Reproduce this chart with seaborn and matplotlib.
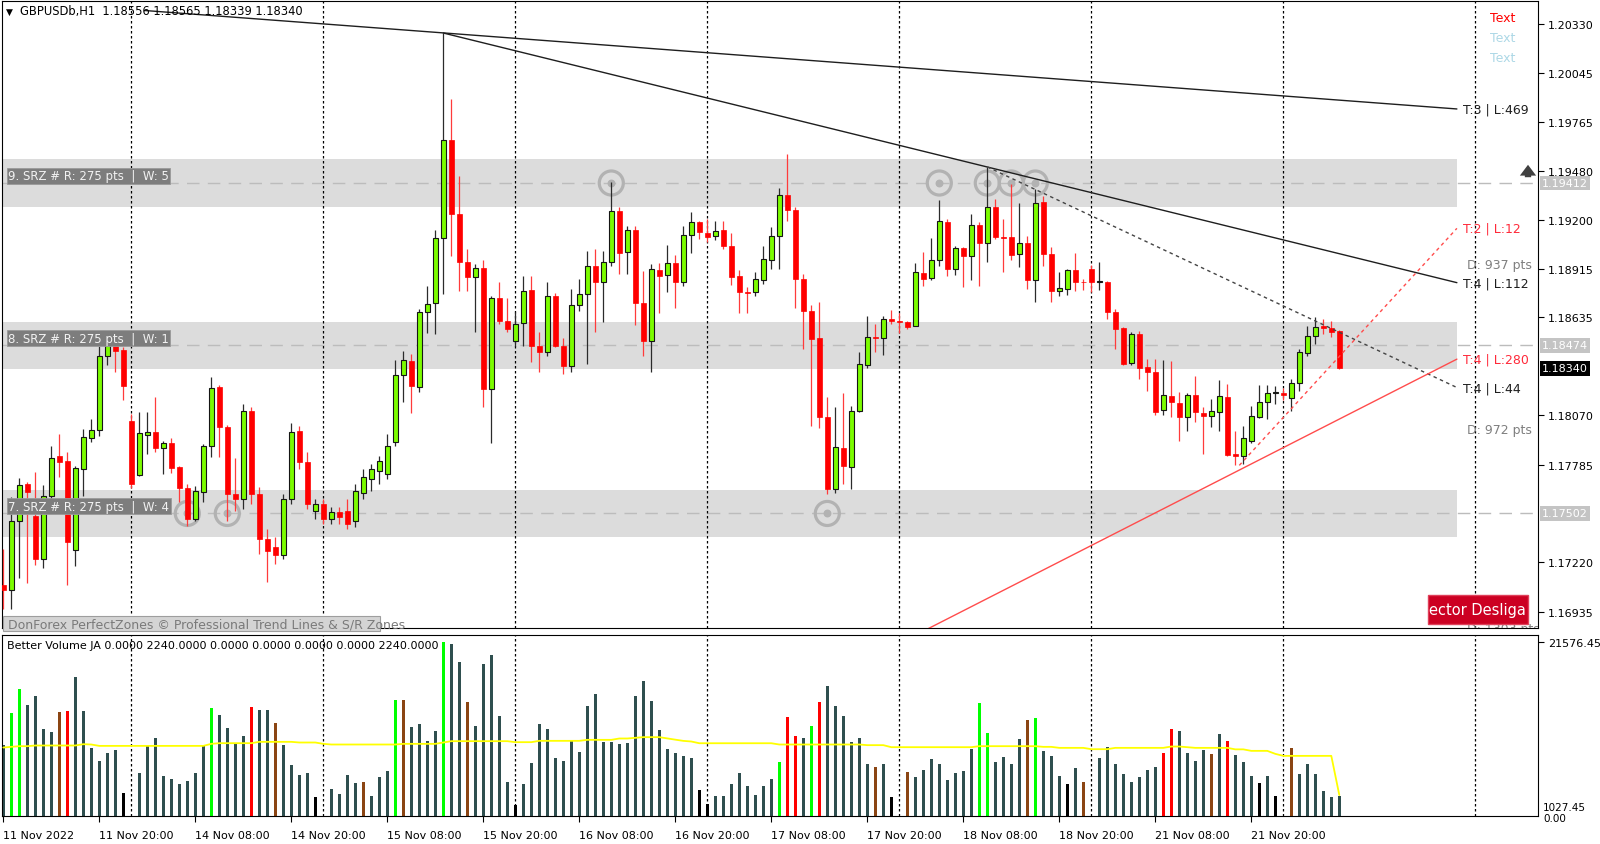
import numpy as np
import pandas as pd
import matplotlib
matplotlib.use("Agg")
import matplotlib.pyplot as plt
from matplotlib.patches import Rectangle, FancyArrowPatch
import seaborn as sns

# ---------------- data ----------------
bar_index = list(range(168))

open_prices = [
    1.17089, 1.17060, 1.17459, 1.17673, 1.17488, 1.17239, 1.17603, 1.17835, 1.17806, 1.17291,
    1.17759, 1.17939, 1.17985, 1.18413, 1.18470, 1.18447, 1.18037, 1.17725, 1.17956, 1.17973,
    1.17881, 1.17910, 1.17771, 1.17650, 1.17470, 1.17626, 1.17892, 1.18233, 1.18002, 1.17615,
    1.17586, 1.18095, 1.17615, 1.17355, 1.17309, 1.17262, 1.17586, 1.17979, 1.17800, 1.17517,
    1.17557, 1.17470, 1.17511, 1.17517, 1.17459, 1.17621, 1.17702, 1.17748, 1.17731, 1.17915,
    1.18303, 1.18384, 1.18233, 1.18667, 1.18719, 1.19095, 1.19661, 1.19233, 1.18956, 1.18869,
    1.18921, 1.18222, 1.18748, 1.18615, 1.18499, 1.18603, 1.18794, 1.18470, 1.18436, 1.18759,
    1.18470, 1.18355, 1.18707, 1.18771, 1.18933, 1.18840, 1.18956, 1.19251, 1.19014, 1.19141,
    1.18719, 1.18499, 1.18910, 1.18881, 1.18950, 1.18840, 1.19112, 1.19187, 1.19123, 1.19106,
    1.19141, 1.19048, 1.18875, 1.18782, 1.18782, 1.18852, 1.18967, 1.19106, 1.19343, 1.19256,
    1.18858, 1.18673, 1.18517, 1.18060, 1.17644, 1.17881, 1.17771, 1.18095, 1.18361, 1.18522,
    1.18517, 1.18626, 1.18615, 1.18609, 1.18586, 1.18892, 1.18863, 1.18967, 1.19187, 1.18915,
    1.19037, 1.18991, 1.19170, 1.19066, 1.19274, 1.19100, 1.19100, 1.19002, 1.19066, 1.18852,
    1.19303, 1.19002, 1.18788, 1.18800, 1.18910, 1.18840, 1.18915, 1.18840, 1.18840, 1.18667,
    1.18574, 1.18372, 1.18540, 1.18349, 1.18320, 1.18100, 1.18181, 1.18141, 1.18060, 1.18187,
    1.18083, 1.18066, 1.18089, 1.18176, 1.17846, 1.17835, 1.17921, 1.18060, 1.18147, 1.18199,
    1.18199, 1.18170, 1.18256, 1.18430, 1.18528, 1.18586, 1.18574, 1.18556]

high_prices = [
    1.17297, 1.17598, 1.17707, 1.17684, 1.17742, 1.17667, 1.17892, 1.17962, 1.17858, 1.17777,
    1.17991, 1.18048, 1.18470, 1.18511, 1.18488, 1.18465, 1.18077, 1.18089, 1.18089, 1.18176,
    1.17921, 1.17939, 1.17777, 1.17673, 1.17661, 1.17904, 1.18291, 1.18245, 1.18014, 1.17823,
    1.18135, 1.18118, 1.17655, 1.17413, 1.17366, 1.17615, 1.18025, 1.18008, 1.17858, 1.17586,
    1.17586, 1.17540, 1.17540, 1.17586, 1.17673, 1.17759, 1.17788, 1.17835, 1.17962, 1.18389,
    1.18441, 1.18424, 1.18684, 1.18817, 1.19141, 1.20279, 1.19898, 1.19453, 1.19031, 1.18944,
    1.18967, 1.18759, 1.18840, 1.18748, 1.18667, 1.18875, 1.18875, 1.18551, 1.18840, 1.18777,
    1.18517, 1.18800, 1.18858, 1.19019, 1.19031, 1.19019, 1.19418, 1.19274, 1.19164, 1.19164,
    1.18904, 1.18944, 1.18950, 1.19054, 1.18996, 1.19164, 1.19245, 1.19193, 1.19204, 1.19193,
    1.19193, 1.19123, 1.18910, 1.18811, 1.18898, 1.19048, 1.19158, 1.19384, 1.19580, 1.19274,
    1.18886, 1.18707, 1.18725, 1.18176, 1.18118, 1.18199, 1.18124, 1.18436, 1.18644, 1.18597,
    1.18644, 1.18678, 1.18661, 1.18615, 1.18950, 1.19014, 1.19095, 1.19314, 1.19204, 1.19048,
    1.19043, 1.19233, 1.19187, 1.19505, 1.19320, 1.19204, 1.19407, 1.19297, 1.19106, 1.19378,
    1.19337, 1.19043, 1.18898, 1.18915, 1.19008, 1.18858, 1.18938, 1.18956, 1.18846, 1.18684,
    1.18580, 1.18551, 1.18557, 1.18395, 1.18395, 1.18389, 1.18384, 1.18204, 1.18199, 1.18297,
    1.18118, 1.18164, 1.18274, 1.18251, 1.17979, 1.18008, 1.18124, 1.18245, 1.18245, 1.18239,
    1.18228, 1.18280, 1.18453, 1.18586, 1.18638, 1.18626, 1.18615, 1.18565]

low_prices = [
    1.16950, 1.16950, 1.17129, 1.17101, 1.17205, 1.17187, 1.17551, 1.17713, 1.17089, 1.17199,
    1.17603, 1.17915, 1.17950, 1.18361, 1.18320, 1.18158, 1.17650, 1.17719, 1.17846, 1.17858,
    1.17731, 1.17736, 1.17569, 1.17430, 1.17460, 1.17569, 1.17829, 1.17829, 1.17459, 1.17517,
    1.17528, 1.17557, 1.17268, 1.17106, 1.17210, 1.17239, 1.17557, 1.17759, 1.17528, 1.17470,
    1.17441, 1.17441, 1.17441, 1.17413, 1.17424, 1.17586, 1.17632, 1.17673, 1.17702, 1.17892,
    1.18147, 1.18083, 1.18204, 1.18545, 1.18540, 1.18771, 1.18991, 1.18788, 1.18788, 1.18551,
    1.18118, 1.17910, 1.18597, 1.18551, 1.18470, 1.18470, 1.18378, 1.18320, 1.18413, 1.18464,
    1.18309, 1.18320, 1.18673, 1.18366, 1.18551, 1.18609, 1.18933, 1.18886, 1.18886, 1.18592,
    1.18413, 1.18320, 1.18661, 1.18782, 1.18690, 1.18817, 1.19008, 1.19089, 1.19071, 1.19083,
    1.19031, 1.18823, 1.18661, 1.18661, 1.18759, 1.18829, 1.18915, 1.18915, 1.19193, 1.18690,
    1.18453, 1.18008, 1.17996, 1.17615, 1.17621, 1.17673, 1.17644, 1.18089, 1.18343, 1.18436,
    1.18418, 1.18597, 1.18545, 1.18569, 1.18586, 1.18817, 1.18852, 1.18933, 1.18875, 1.18881,
    1.18811, 1.18852, 1.18817, 1.18956, 1.19089, 1.18898, 1.18967, 1.18927, 1.18800, 1.18725,
    1.18933, 1.18725, 1.18759, 1.18765, 1.18788, 1.18794, 1.18782, 1.18794, 1.18626, 1.18453,
    1.18361, 1.18361, 1.18280, 1.18210, 1.18072, 1.18072, 1.18060, 1.17921, 1.17979, 1.18031,
    1.17846, 1.18002, 1.17979, 1.17835, 1.17783, 1.17788, 1.17910, 1.18054, 1.18048, 1.18135,
    1.18158, 1.18095, 1.18210, 1.18413, 1.18482, 1.18540, 1.18522, 1.18339]

close_prices = [
    1.17060, 1.17459, 1.17667, 1.17626, 1.17239, 1.17603, 1.17823, 1.17800, 1.17337, 1.17765,
    1.17944, 1.17985, 1.18413, 1.18482, 1.18441, 1.18239, 1.17673, 1.17968, 1.17973, 1.17881,
    1.17910, 1.17765, 1.17650, 1.17470, 1.17632, 1.17892, 1.18228, 1.18002, 1.17615, 1.17586,
    1.18095, 1.17615, 1.17355, 1.17285, 1.17262, 1.17586, 1.17973, 1.17800, 1.17557, 1.17557,
    1.17470, 1.17511, 1.17482, 1.17441, 1.17632, 1.17713, 1.17759, 1.17806, 1.17892, 1.18303,
    1.18389, 1.18239, 1.18667, 1.18713, 1.19095, 1.19661, 1.19233, 1.18956, 1.18869, 1.18921,
    1.18222, 1.18748, 1.18615, 1.18569, 1.18597, 1.18788, 1.18470, 1.18436, 1.18759, 1.18470,
    1.18355, 1.18707, 1.18771, 1.18933, 1.18840, 1.18956, 1.19251, 1.19008, 1.19141, 1.18719,
    1.18499, 1.18915, 1.18875, 1.18950, 1.18840, 1.19112, 1.19187, 1.19129, 1.19100, 1.19135,
    1.19048, 1.18869, 1.18782, 1.18779, 1.18858, 1.18973, 1.19106, 1.19343, 1.19256, 1.18858,
    1.18673, 1.18511, 1.18060, 1.17644, 1.17887, 1.17777, 1.18095, 1.18366, 1.18522, 1.18517,
    1.18626, 1.18615, 1.18609, 1.18580, 1.18898, 1.18858, 1.18967, 1.19193, 1.18915, 1.19037,
    1.18991, 1.19170, 1.19066, 1.19274, 1.19100, 1.19095, 1.18996, 1.19066, 1.18852, 1.19297,
    1.19002, 1.18788, 1.18806, 1.18910, 1.18840, 1.18837, 1.18840, 1.18846, 1.18667, 1.18569,
    1.18366, 1.18540, 1.18343, 1.18320, 1.18089, 1.18187, 1.18147, 1.18060, 1.18187, 1.18089,
    1.18066, 1.18095, 1.18181, 1.17840, 1.17835, 1.17939, 1.18066, 1.18147, 1.18199, 1.18202,
    1.18187, 1.18256, 1.18436, 1.18528, 1.18580, 1.18574, 1.18551, 1.18340]

volume = [
    8767, 12735, 15711, 13727, 14806, 10751, 10342, 12822, 12983, 17162,
    12983, 8395, 6783, 7775, 8110, 2815, 0, 5295, 8680, 9672,
    4960, 4551, 3968, 4303, 5295, 8680, 13355, 12487, 10912, 9015,
    9920, 13479, 13144, 13144, 11495, 8767, 6287, 5047, 5295, 2319,
    0, 3398, 2728, 5047, 4055, 4179, 2480, 4799, 5543, 14384,
    14384, 10999, 11371, 9263, 10503, 21576, 21300, 19096, 14099, 11123,
    18811, 19927, 12363, 4216, 1327, 3968, 6535, 11371, 10751, 7155,
    6870, 9424, 7936, 13640, 15091, 9176, 9176, 8891, 9015, 14843,
    16703, 14260, 10627, 8271, 7775, 7440, 7155, 3187, 1538, 2443,
    2443, 3968, 5295, 3683, 2604, 3683, 4551, 6696, 12239, 9883,
    9635, 11123, 14099, 16083, 13603, 12363, 9139, 9635, 6411, 6039,
    6411, 2319, 0, 5419, 4799, 5667, 7031, 6411, 4427, 5295,
    5543, 8271, 13975, 10255, 6659, 7279, 6411, 9511, 11867, 12115,
    8023, 7403, 4923, 3931, 5915, 4179, 0, 7155, 8519, 6411,
    5171, 4179, 4799, 5667, 6039, 7775, 10751, 10503, 7775, 6783,
    8147, 7651, 10131, 9263, 7527, 6659, 4923, 4055, 4923, 2443,
    0, 8395, 5171, 6411, 5171, 3063, 2319, 2480]

# n = normal, g = climax up, r = climax down, b = churn, k = low volume
volume_class = list(
    "nggnnnnbrn" "nnnnnkknnn" "nnnnnngnnn" "nrnnbnnnnk" "knnnnbnnng"
    "bnnnngnnbn" "nnnnknnnnn" "nnnnnnnnnn" "nnnnnnnkkn" "nnnnnnngrr"
    "ngrnnnnnnb" "nkkbnnnnnn" "nnggnnnnbg" "nnnknbknnn" "nnnnnrrnnn"
    "nbnrnnnknk" "kbnnnnnn")

volume_average = [
    8478, 8560, 8643, 8643, 8726, 8726, 8726, 8726, 8726, 8726,
    8891, 8850, 8680, 8680, 8680, 8680, 8680, 8680, 8680, 8680,
    8680, 8680, 8680, 8680, 8680, 8680, 8932, 9015, 9015, 9015,
    9015, 9015, 9180, 9180, 9180, 9180, 9180, 9098, 9098, 9098,
    8932, 8850, 8850, 8850, 8850, 8850, 8850, 8850, 8850, 8850,
    8932, 8932, 8932, 8932, 8932, 9098, 9263, 9263, 9263, 9263,
    9263, 9263, 9263, 9263, 9139, 9139, 9139, 9304, 9304, 9304,
    9304, 9304, 9304, 9428, 9428, 9428, 9428, 9594, 9594, 9676,
    9760, 9760, 9760, 9600, 9450, 9300, 9222, 9007, 9007, 9007,
    9007, 9007, 9007, 9007, 9007, 9007, 9007, 8850, 8850, 8850,
    8850, 8850, 8850, 8850, 8850, 8850, 8850, 8850, 8770, 8770,
    8770, 8519, 8519, 8519, 8519, 8519, 8519, 8519, 8519, 8519,
    8519, 8519, 8643, 8643, 8643, 8643, 8643, 8643, 8643, 8643,
    8560, 8560, 8436, 8436, 8436, 8436, 8271, 8271, 8271, 8436,
    8436, 8436, 8436, 8436, 8436, 8436, 8600, 8600, 8520, 8436,
    8436, 8436, 8436, 8436, 8250, 8250, 8064, 8064, 8064, 7692,
    7444, 7444, 7444, 7444, 7444, 7444, 7444, 2600]

time_tick_bars = [0, 12, 24, 36, 48, 60, 72, 84, 96, 108, 120, 132, 144, 156]
time_tick_labels = ["11 Nov 2022", "11 Nov 20:00", "14 Nov 08:00", "14 Nov 20:00",
                    "15 Nov 08:00", "15 Nov 20:00", "16 Nov 08:00", "16 Nov 20:00",
                    "17 Nov 08:00", "17 Nov 20:00", "18 Nov 08:00", "18 Nov 20:00",
                    "21 Nov 08:00", "21 Nov 20:00"]
day_separator_bars = [16, 40, 64, 88, 112, 136, 160, 184]
price_ticks = [1.20330, 1.20045, 1.19765, 1.19480, 1.19200, 1.18915, 1.18635,
               1.18070, 1.17785, 1.17220, 1.16935]

zone_centers = [1.19412, 1.18474, 1.17502]
zone_half_range = 0.001375
zone_names = ["9. SRZ # R: 275 pts", "8. SRZ # R: 275 pts", "7. SRZ # R: 275 pts"]
zone_weights = ["W: 5", "W: 1", "W: 4"]
zone_touch_bars = [[76, 117, 123, 126, 129], [], [23, 28, 103]]
zone_end_bar = 181.7

trend_start_bar = [17.7, 55, 123, 110, 154.5]
trend_start_price = [1.20409, 1.20279, 1.19505, 1.16704, 1.17780]
trend_end_bar = [181.7, 181.7, 181.7, 181.7, 181.7]
trend_end_price = [1.19840, 1.18836, 1.18230, 1.18394, 1.19150]
trend_labels = ["T:3 | L:469", "T:4 | L:112", "T:4 | L:44", "T:4 | L:280", "T:2 | L:12"]

distance_labels = ["D: 937 pts", "D: 972 pts", "D: 1303 pts"]
distance_prices = [1.18939, 1.17985, 1.16835]

header_text = "GBPUSDb,H1  1.18556 1.18565 1.18339 1.18340"
indicator_text = "Better Volume JA 0.0000 2240.0000 0.0000 0.0000 0.0000 0.0000 2240.0000"
credit_text = "DonForex PerfectZones \u00a9 Professional Trend Lines & S/R Zones"
volume_max_label = 21576.45
volume_min_labels = ["1027.45", "0.00"]

# ---------------- style ----------------
sns.set_theme(style="white", rc={"axes.edgecolor": "black", "axes.linewidth": 0.8})
plt.rcParams['font.family'] = ['DejaVu Sans']

W, H = 1600, 845
fig = plt.figure(figsize=(W / 100, H / 100), dpi=100)
fig.patch.set_facecolor("white")


def fx(px):
    return px / W


def fy(py):
    return 1 - py / H


X_LEFT, X_RIGHT = 2, 1538
ax = fig.add_axes([fx(X_LEFT), fy(629), (X_RIGHT - X_LEFT) / W, (629 - 2) / H])
axv = fig.add_axes([fx(X_LEFT), fy(817), (X_RIGHT - X_LEFT) / W, (817 - 636) / H])
XLIM = ((X_LEFT - 3.3) / 8, (X_RIGHT - 3.3) / 8)
for a in (ax, axv):
    a.set_facecolor("white")

# ---------------- main price panel ----------------
xb = np.array(bar_index)
o = np.array(open_prices)
hi = np.array(high_prices)
lo = np.array(low_prices)
c = np.array(close_prices)
bull = c > o

# S/R zones
for zc in zone_centers:
    ax.add_patch(Rectangle((-0.5, zc - zone_half_range), zone_end_bar + 0.5,
                           2 * zone_half_range, fc="#dcdcdc", ec="none", zorder=0))
    ax.hlines(zc, -0.5, 191.5, colors="#bcbcbc", lw=1.0, linestyles=(0, (9, 6)), zorder=1)
for zc, touches in zip(zone_centers, zone_touch_bars):
    if touches:
        ax.scatter(touches, [zc] * len(touches), s=300, facecolors="none",
                   edgecolors="#b2b2b2", linewidths=2.3, zorder=1.5)
        ax.scatter(touches, [zc] * len(touches), s=22, color="#b2b2b2", zorder=1.5)

for b in day_separator_bars:
    ax.axvline(b, color="black", lw=0.9, ls=(0, (2, 2)), zorder=2)
    axv.axvline(b, color="black", lw=0.9, ls=(0, (2, 2)), zorder=1)

# candles
ax.vlines(xb[bull], lo[bull], hi[bull], colors="#2b2b2b", lw=0.9, zorder=3)
ax.vlines(xb[~bull], lo[~bull], hi[~bull], colors="#ff3b3b", lw=0.9, zorder=3)
body_lo = np.minimum(o, c)
body_h = np.maximum(np.abs(c - o), 0.00004)
ax.bar(xb[bull], body_h[bull], bottom=body_lo[bull], width=0.62, color="#7cfc00",
       edgecolor="#151515", linewidth=0.8, zorder=4)
ax.bar(xb[~bull], body_h[~bull], bottom=body_lo[~bull], width=0.62, color="#ff0000",
       edgecolor="#ff0000", linewidth=0.5, zorder=4)

# trend lines
trend_colors = ["#1e1e1e", "#1e1e1e", "#444444", "#ff4c4c", "#ff4c4c"]
trend_styles = ["-", "-", (0, (2.5, 2.5)), "-", (0, (2.5, 2.5))]
label_colors = ["#1e1e1e", "#1e1e1e", "#1e1e1e", "#ff2a3a", "#ff2a3a"]
for i in range(len(trend_labels)):
    ax.plot([trend_start_bar[i], trend_end_bar[i]], [trend_start_price[i], trend_end_price[i]],
            color=trend_colors[i], lw=1.0, ls=trend_styles[i], zorder=5)
    ax.text(trend_end_bar[i] + 0.75, trend_end_price[i], trend_labels[i], color=label_colors[i],
            fontsize=9, va="center", ha="left", clip_on=True, zorder=6)
for lab, p in zip(distance_labels, distance_prices):
    ax.text(183.0, p, lab, color="#7f7f7f", fontsize=9, va="center", ha="left",
            clip_on=True, zorder=6)

# zone labels
for zc, name, wt in zip(zone_centers, zone_names, zone_weights):
    ax.text(0.6, zc + 0.00004, name + "  |  " + wt, color="#f2f2f2", fontsize=8.5,
            va="bottom", ha="left", zorder=7,
            bbox=dict(boxstyle="square,pad=0.12", fc="#7d7d7d", ec="#9a9a9a", lw=0.6))

ax.set_xlim(*XLIM)
ax.set_ylim(1.16840, 1.20464)
ax.set_xticks([])
ax.yaxis.tick_right()
ax.set_yticks(price_ticks)
ax.set_yticklabels([f"{p:.5f}" for p in price_ticks])
ax.tick_params(axis="y", which="both", right=True, left=False, direction="out",
               length=4, width=0.8, pad=3, labelsize=8, colors="black")
for s in ax.spines.values():
    s.set_color("black")
    s.set_linewidth(0.8)

# price labels on the axis
ytr = ax.get_yaxis_transform()
for zc in zone_centers:
    ax.text(1 + 4 / 1536, zc, f"{zc:.5f}", transform=ytr, color="white", fontsize=8,
            va="center", ha="left", clip_on=False, zorder=8,
            bbox=dict(boxstyle="square,pad=0.2", fc="#c4c4c4", ec="none"))
ax.text(1 + 4 / 1536, close_prices[-1], f"{close_prices[-1]:.5f}", transform=ytr,
        color="white", fontsize=8, va="center", ha="left", clip_on=False, zorder=8,
        bbox=dict(boxstyle="square,pad=0.2", fc="black", ec="none"))

# ---------------- volume panel ----------------
vdf = pd.DataFrame({"bar": bar_index, "volume": volume, "cls": volume_class})
vol_palette = {"n": "#2f4f4f", "g": "#00ff00", "r": "#ff0000", "b": "#8b4513", "k": "#000000"}
sns.barplot(data=vdf, x="bar", y="volume", hue="cls", palette=vol_palette, native_scale=True,
            dodge=False, width=0.4, saturation=1, legend=False, errorbar=None, ax=axv,
            linewidth=0, zorder=2)
sns.lineplot(x=bar_index, y=volume_average, color="#ffff00", lw=1.3, ax=axv, zorder=3)
axv.set_xlim(*XLIM)
axv.set_ylim(0, 22406)
axv.set_xlabel("")
axv.set_ylabel("")
axv.yaxis.tick_right()
axv.set_yticks([volume_max_label])
axv.set_yticklabels([f"{volume_max_label:.2f}"])
axv.tick_params(axis="y", right=True, left=False, direction="out", length=4, width=0.8,
                pad=3, labelsize=8, colors="black")
axv.set_xticks(time_tick_bars)
axv.set_xticklabels(time_tick_labels)
axv.tick_params(axis="x", bottom=True, direction="out", length=4, width=0.8, pad=6,
                labelsize=8, colors="black")
for t in axv.get_xticklabels():
    t.set_ha("left")
for s in axv.spines.values():
    s.set_color("black")
    s.set_linewidth(0.8)
vtr = axv.get_yaxis_transform()
# the two bottom scale labels sit on top of each other in the reference; keep them tight
axv.text(1 + 5 / 1536, 0.62, volume_min_labels[0], transform=axv.transAxes, fontsize=7.5,
         va="center", ha="left", clip_on=False, alpha=0) if False else None
fig.text(fx(1543), fy(808), volume_min_labels[0], fontsize=7.5, va="center", ha="left",
         color="black")
fig.text(fx(1543), fy(819), volume_min_labels[1], fontsize=7.5, va="center", ha="left",
         color="black")

# ---------------- texts / overlays ----------------
fig.text(fx(6), fy(12), "\u25bc", fontsize=6.5, va="center", ha="left", color="black")
fig.text(fx(20), fy(12), header_text, fontsize=8.3, va="center", ha="left", color="black")
fig.text(fx(7), fy(646), indicator_text, fontsize=8, va="center", ha="left", color="black")

fig.patches.append(Rectangle((fx(3), fy(632)), (380 - 3) / W, 15 / H, transform=fig.transFigure,
                             fc="#d4d4d4", ec="#9e9e9e", lw=0.8, zorder=10))
fig.text(fx(8), fy(625), credit_text, fontsize=9, va="center", ha="left", color="#7a7a7a",
         zorder=11)

fig.patches.append(Rectangle((fx(1428), fy(625)), 100 / W, 29 / H, transform=fig.transFigure,
                             fc="#cc0022", ec="#e0405a", lw=1.0, zorder=10))
fig.text(fx(1526), fy(611), "ector Desliga", fontsize=10.5, va="center", ha="right",
         color="white", zorder=11)

fig.text(fx(1490), fy(19), "Text", fontsize=9, va="center", ha="left", color="#ff0000")
fig.text(fx(1490), fy(39), "Text", fontsize=9, va="center", ha="left", color="#add8e6")
fig.text(fx(1490), fy(59), "Text", fontsize=9, va="center", ha="left", color="#add8e6")

fig.add_artist(FancyArrowPatch(
    (fx(1528), fy(181)), (fx(1528), fy(163)), transform=fig.transFigure,
    arrowstyle="simple,head_width=0.9,head_length=0.6,tail_width=0.35",
    mutation_scale=13, color="#404040", lw=0))

fig.savefig("out.png", dpi=100)
